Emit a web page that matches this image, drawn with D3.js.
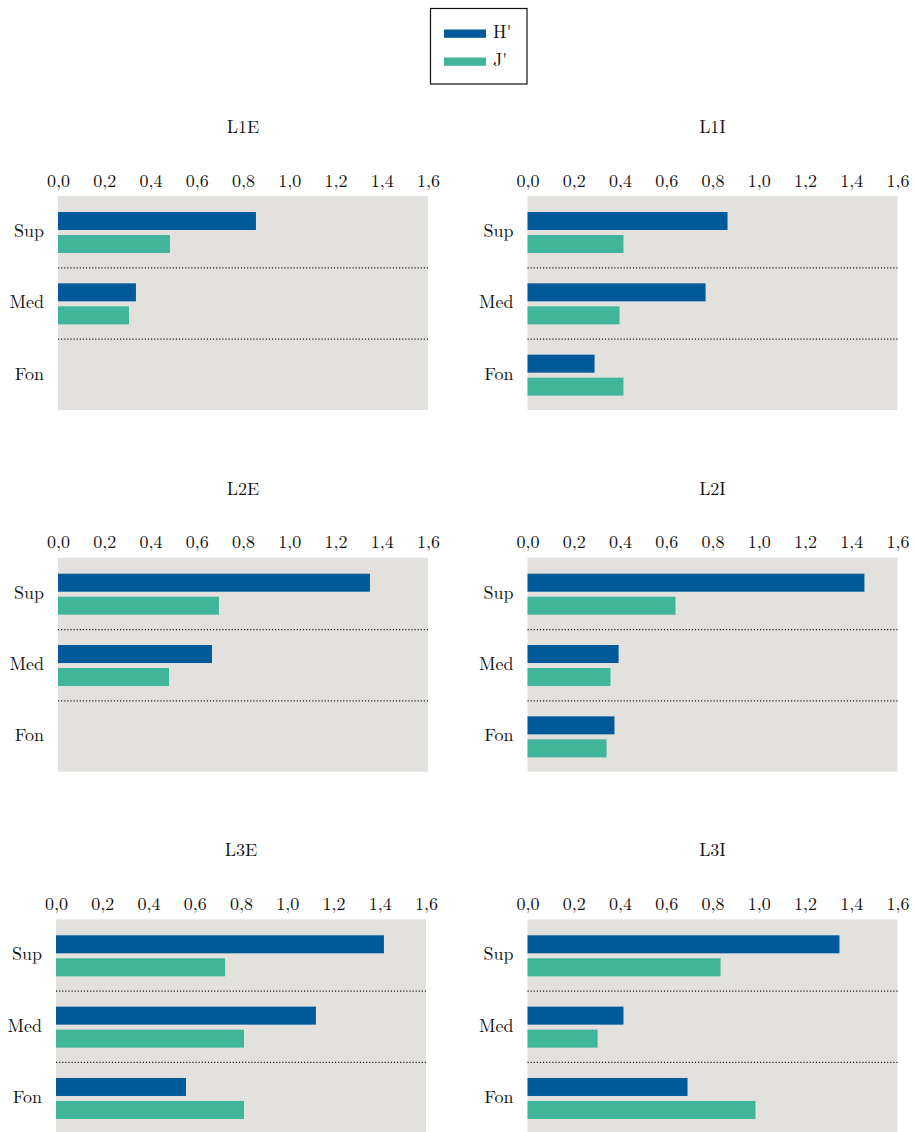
<!DOCTYPE html>
<html>
<head>
<meta charset="utf-8">
<script src="https://cdn.jsdelivr.net/npm/d3@7"></script>
<style>
  body { margin: 0; background: #fff; }
</style>
</head>
<body>
<svg id="chart"></svg>
<script>
const width = 915;
const height = 1132;
const fontFamily = "'Latin Modern Roman', 'Liberation Serif', serif";

// data
const panels = ['L1E', 'L1I', 'L2E', 'L2I', 'L3E', 'L3I'];
const depths = ['Sup', 'Med', 'Fon'];
const series = ["H'", "J'"];
const ticks = [0, 0.2, 0.4, 0.6, 0.8, 1.0, 1.2, 1.4, 1.6];

const hValues = [
    [0.856, 0.337, null],
    [0.865, 0.770, 0.290],
    [1.349, 0.666, null],
    [1.457, 0.394, 0.376],
    [1.418, 1.124, 0.562],
    [1.349, 0.415, 0.692]
];
const jValues = [
    [0.484, 0.307, null],
    [0.415, 0.398, 0.415],
    [0.696, 0.480, null],
    [0.640, 0.359, 0.342],
    [0.731, 0.813, 0.813],
    [0.835, 0.303, 0.986]
];

const colors = ['#005A9A', '#41B59A'];
const bgColor = '#E2E1DD';

const plotW = 370;
const plotH = 214;
const colX = [58, 527.5];
const rowY = [196, 557.7, 919.3];

const svg = d3.select('#chart')
    .attr('width', width)
    .attr('height', height)
    .attr('font-family', fontFamily);

const commaFmt = d3.formatLocale({decimal: ',', thousands: '.', grouping: [3], currency: ['', '']}).format('.1f');

const x = d3.scaleLinear().domain([0, 1.6]).range([0, plotW]);
const y = d3.scaleBand().domain(depths).range([0, plotH]);
const ySub = d3.scaleBand().domain(series).range([16, 57]).paddingInner(5 / 23);
const color = d3.scaleOrdinal().domain(series).range(colors);

panels.forEach((name, i) => {
    const row = Math.floor(i / 2);
    const col = i % 2;
    const left = (row == 2 && col == 0) ? 56 : colX[col];
    const top = rowY[row];

    const g = svg.append('g').attr('transform', `translate(${left}, ${top})`);

    g.append('rect')
        .attr('width', plotW)
        .attr('height', plotH)
        .attr('fill', bgColor);

    g.append('text')
        .attr('x', plotW / 2)
        .attr('y', -63)
        .attr('text-anchor', 'middle')
        .attr('font-family', fontFamily)
        .attr('font-size', 18)
        .attr('fill', '#111')
        .text(name);

    const xAxis = g.append('g')
        .call(d3.axisTop(x).tickValues(ticks).tickSize(0).tickPadding(9.5).tickFormat(commaFmt))
        .attr('font-family', fontFamily)
        .attr('font-size', 18);
    xAxis.select('.domain').remove();
    xAxis.selectAll('text').attr('fill', '#111');

    const yAxis = g.append('g')
        .call(d3.axisLeft(y).tickSize(0).tickPadding(14))
        .attr('font-family', fontFamily)
        .attr('font-size', 18);
    yAxis.select('.domain').remove();
    yAxis.selectAll('text').attr('fill', '#111').attr('dy', '0.3em');

    // dotted separators between depth bands
    g.selectAll('.sep').data(depths.slice(1))
        .enter()
        .append('line')
        .attr('class', 'sep')
        .attr('x1', 0)
        .attr('x2', plotW)
        .attr('y1', d => y(d) + 0.5)
        .attr('y2', d => y(d) + 0.5)
        .attr('stroke', '#222')
        .attr('stroke-width', 1.2)
        .attr('stroke-dasharray', '1.2,1.9');

    const bars = [];
    depths.forEach((d, k) => {
        bars.push({depth: d, s: series[0], v: hValues[i][k]});
        bars.push({depth: d, s: series[1], v: jValues[i][k]});
    });

    g.selectAll('.bar').data(bars.filter(b => b.v != null))
        .enter()
        .append('rect')
        .attr('class', 'bar')
        .attr('x', 0)
        .attr('y', d => y(d.depth) + ySub(d.s))
        .attr('width', d => x(d.v))
        .attr('height', ySub.bandwidth())
        .attr('fill', d => color(d.s));
});

// legend
const legend = svg.append('g').attr('transform', 'translate(430.5, 8.5)');
legend.append('rect')
    .attr('width', 96.5)
    .attr('height', 75.5)
    .attr('fill', '#fff')
    .attr('stroke', '#111')
    .attr('stroke-width', 1.2);

series.forEach((s, k) => {
    legend.append('rect')
        .attr('x', 13.5)
        .attr('y', 21 + k * 28)
        .attr('width', 42)
        .attr('height', 8.3)
        .attr('fill', color(s));
    legend.append('text')
        .attr('x', 62.5)
        .attr('y', 29 + k * 28)
        .attr('font-family', fontFamily)
        .attr('font-size', 18)
        .attr('fill', '#111')
        .text(s);
});
</script>
</body>
</html>
